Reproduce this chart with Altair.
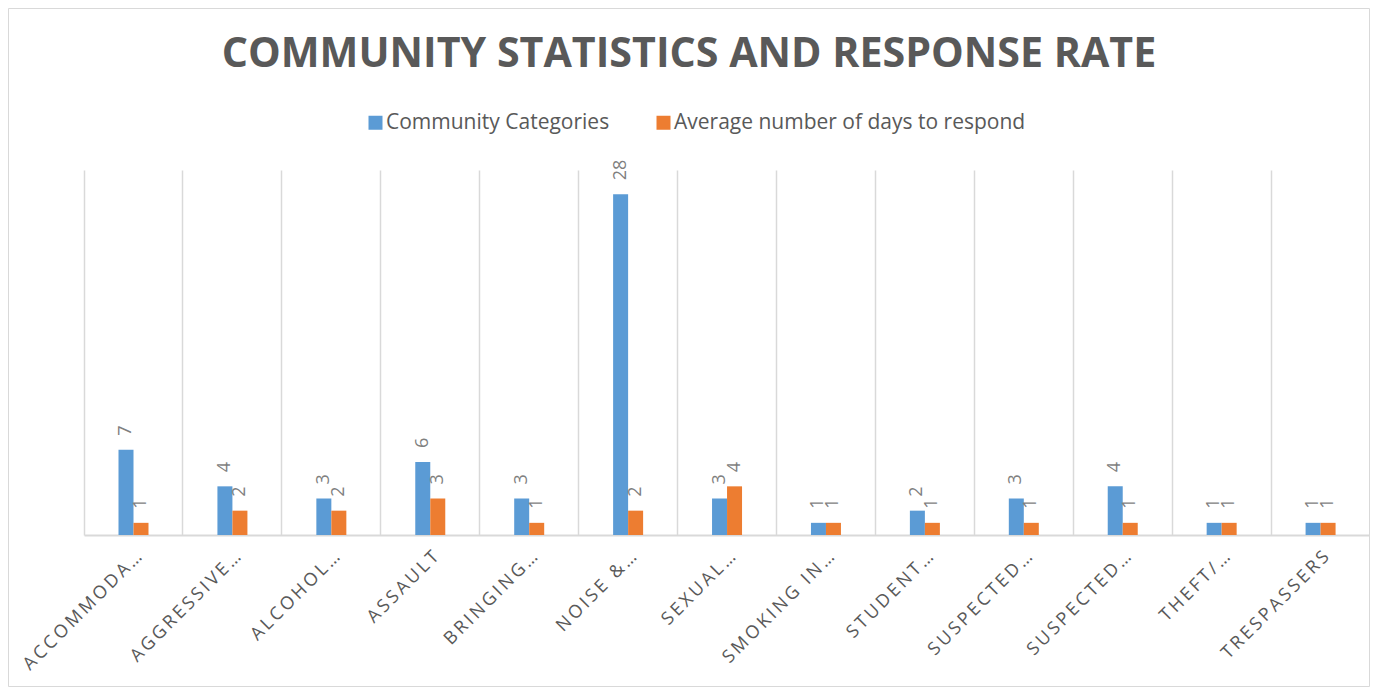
import json
import altair as alt
import pandas as pd

categories = ["ACCOMMODA…", "AGGRESSIVE…", "ALCOHOL…", "ASSAULT", "BRINGING…",
              "NOISE &…", "SEXUAL…", "SMOKING IN…", "STUDENT…", "SUSPECTED…",
              "SUSPECTED…", "THEFT/…", "TRESPASSERS"]
series = ["Community Categories", "Average number of days to respond"]
community = [7, 4, 3, 6, 3, 28, 3, 1, 2, 3, 4, 1, 1]
avg_days = [1, 2, 2, 3, 1, 2, 4, 1, 1, 1, 1, 1, 1]
colors = ["#5b9bd5", "#ed7d31"]

rows = []
for i, c in enumerate(categories):
    rows.append({"idx": i, "series": series[0], "value": community[i]})
    rows.append({"idx": i, "series": series[1], "value": avg_days[i]})
df = pd.DataFrame(rows)

labels_js = "[" + ",".join(json.dumps(c, ensure_ascii=False) for c in categories) + "]"
label_expr = f"join(split({labels_js}[datum.value], ''), '\u2009')"

FONT = "Open Sans"
GRAY = "#595959"
W, H = 1286, 365

x_enc = alt.X("idx:O", title=None,
              scale=alt.Scale(paddingInner=0, paddingOuter=0),
              axis=alt.Axis(grid=True, gridColor="#d9d9d9", gridWidth=1.5,
                            bandPosition=0, domain=True, domainColor="#d9d9d9",
                            domainWidth=2, ticks=False, labelAngle=-45,
                            labelAlign="right", labelBaseline="middle",
                            labelPadding=19, labelOffset=6, labelFont=FONT,
                            labelFontSize=18, labelColor=GRAY,
                            labelExpr=label_expr, labelLimit=400))
xoff = alt.XOffset("series:N", sort=series,
                   scale=alt.Scale(domain=series, range=[34.5, 64.5],
                                   paddingOuter=0, paddingInner=0))
y_enc = alt.Y("value:Q", scale=alt.Scale(domain=[0, 30]), axis=None)

base = alt.Chart(df)

bars = base.mark_bar().encode(
    x=x_enc, xOffset=xoff, y=y_enc,
    color=alt.Color("series:N", sort=series,
                    scale=alt.Scale(domain=series, range=colors),
                    legend=alt.Legend(orient="none", legendX=281, legendY=-58,
                                      direction="horizontal", title=None,
                                      symbolType="square", symbolSize=196,
                                      symbolStrokeWidth=0, labelFont=FONT,
                                      labelFontSize=21, labelColor=GRAY,
                                      columnPadding=43, labelOffset=0, padding=0,
                                      labelLimit=500))
)

texts = base.mark_text(angle=270, align="left", baseline="middle", dx=14,
                       font=FONT, fontSize=18, color="#7f7f7f").encode(
    x=x_enc, xOffset=xoff, y=y_enc, text=alt.Text("value:Q")
)

border = alt.Chart(pd.DataFrame({"a": [0]})).mark_rect(
    filled=False, stroke="#d9d9d9", strokeWidth=1
).encode(x=alt.value(-75.5), x2=alt.value(W - 0.5), y=alt.value(-161.5), y2=alt.value(516.5))

chart = alt.layer(border, bars, texts).properties(
    width=W, height=H,
    title=alt.TitleParams("COMMUNITY STATISTICS AND RESPONSE RATE", font=FONT,
                          fontSize=41.2, fontWeight="bold", color=GRAY,
                          anchor="middle", frame="group", dx=-38, dy=71),
    autosize=alt.AutoSizeParams(type="none"),
    padding={"left": 76, "top": 162, "right": 0, "bottom": 152},
).configure_view(stroke=None)

chart.save("out.html", embed_options={"renderer": "svg", "actions": False})
